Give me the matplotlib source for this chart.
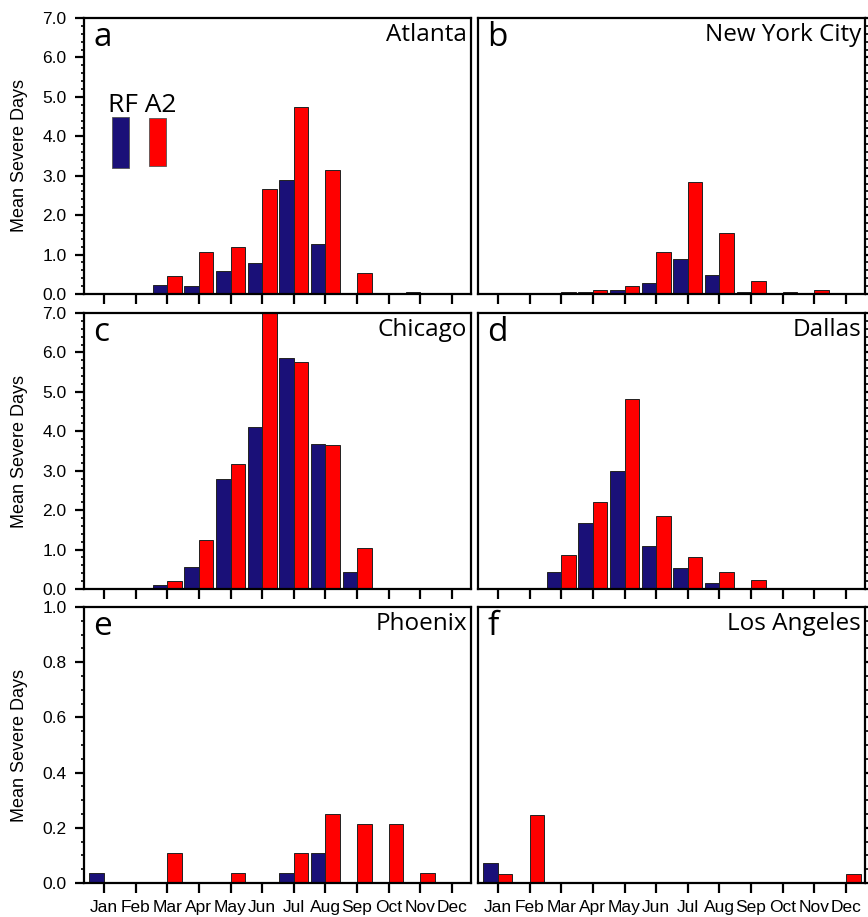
import matplotlib
matplotlib.use("Agg")
import matplotlib.pyplot as plt
from matplotlib.ticker import MultipleLocator, FormatStrFormatter
from matplotlib.patches import Rectangle
import numpy as np

months = ["Jan", "Feb", "Mar", "Apr", "May", "Jun", "Jul", "Aug", "Sep", "Oct", "Nov", "Dec"]

atlanta_rf = [0.02, 0.02, 0.24, 0.21, 0.59, 0.78, 2.88, 1.27, 0.02, 0.0, 0.06, 0.0]
atlanta_a2 = [0.03, 0.02, 0.45, 1.06, 1.20, 2.67, 4.75, 3.14, 0.53, 0.0, 0.01, 0.0]

nyc_rf = [0.0, 0.0, 0.0, 0.06, 0.10, 0.28, 0.89, 0.48, 0.06, 0.0, 0.03, 0.02]
nyc_a2 = [0.02, 0.0, 0.06, 0.10, 0.21, 1.06, 2.84, 1.55, 0.34, 0.06, 0.10, 0.02]

chicago_rf = [0.0, 0.0, 0.11, 0.57, 2.79, 4.11, 5.86, 3.69, 0.43, 0.0, 0.0, 0.0]
chicago_a2 = [0.0, 0.0, 0.21, 1.25, 3.18, 7.00, 5.76, 3.64, 1.04, 0.0, 0.0, 0.0]

dallas_rf = [0.0, 0.01, 0.44, 1.67, 2.99, 1.09, 0.52, 0.16, 0.0, 0.0, 0.0, 0.0]
dallas_a2 = [0.02, 0.01, 0.87, 2.20, 4.82, 1.84, 0.80, 0.44, 0.23, 0.0, 0.0, 0.0]

phoenix_rf = [0.036, 0.0, 0.0, 0.0, 0.0, 0.0, 0.036, 0.107, 0.0, 0.0, 0.0, 0.0]
phoenix_a2 = [0.0, 0.0, 0.107, 0.0, 0.036, 0.0, 0.107, 0.25, 0.214, 0.214, 0.036, 0.0]

la_rf = [0.071, 0.0, 0.0, 0.0, 0.0, 0.0, 0.0, 0.0, 0.0, 0.0, 0.0, 0.0]
la_a2 = [0.034, 0.248, 0.0, 0.0, 0.0, 0.0, 0.0, 0.0, 0.0, 0.0, 0.0, 0.034]

panel_letters = ["a", "b", "c", "d", "e", "f"]
city_names = ["Atlanta", "New York City", "Chicago", "Dallas", "Phoenix", "Los Angeles"]
rf_series = [atlanta_rf, nyc_rf, chicago_rf, dallas_rf, phoenix_rf, la_rf]
a2_series = [atlanta_a2, nyc_a2, chicago_a2, dallas_a2, phoenix_a2, la_a2]
ymax = [7.0, 7.0, 7.0, 7.0, 1.0, 1.0]
ymajor = [1.0, 1.0, 1.0, 1.0, 0.2, 0.2]
yminor = [0.2, 0.2, 0.2, 0.2, 0.05, 0.05]
ylabel_text = "Mean Severe Days"
legend_labels = ["RF", "A2"]

RF_COLOR = "#1a1078"
A2_COLOR = "#ff0000"

fig = plt.figure(figsize=(8.68, 9.17), dpi=100)
W, H = 868.0, 917.0

col_x = [84, 478]
col_w = 387
row_top = [18, 313, 607]
row_h = 276

x = np.arange(1, 13)
bw = 0.46
spine_lw = 1.6
TICK_FS = 12.5

for i in range(6):
    r, c = divmod(i, 2)
    left = col_x[c] / W
    bottom = (H - row_top[r] - row_h) / H
    ax = fig.add_axes([left, bottom, col_w / W, row_h / H])
    ax.bar(x, rf_series[i], width=-bw, align="edge", color=RF_COLOR,
           edgecolor="#222222", linewidth=0.7, zorder=2)
    ax.bar(x, a2_series[i], width=bw, align="edge", color=A2_COLOR,
           edgecolor="#222222", linewidth=0.7, zorder=2)
    ax.set_xlim(0.37, 12.6)
    ax.set_ylim(0, ymax[i])
    for s in ax.spines.values():
        s.set_linewidth(spine_lw)
        s.set_color("black")
    ax.set_xticks(x)
    ax.tick_params(axis="x", which="major", direction="out", length=7,
                   width=1.6, top=False, bottom=True, labelsize=TICK_FS, pad=5)
    if r == 2:
        ax.set_xticklabels(months, fontfamily="Liberation Sans", fontsize=TICK_FS)
    else:
        ax.set_xticklabels([])
    ax.yaxis.set_major_locator(MultipleLocator(ymajor[i]))
    ax.yaxis.set_minor_locator(MultipleLocator(yminor[i]))
    ax.yaxis.set_major_formatter(FormatStrFormatter("%.1f"))
    if c == 0:
        ax.tick_params(axis="y", which="major", direction="out", length=6.5,
                       width=1.6, left=True, right=False, labelsize=TICK_FS, pad=6)
        ax.tick_params(axis="y", which="minor", direction="out", length=2.5,
                       width=1.2, left=True, right=False)
        for lab in ax.get_yticklabels():
            lab.set_fontfamily("Liberation Sans")
            lab.set_fontsize(TICK_FS)
        ax.set_ylabel(ylabel_text, fontsize=13, fontfamily="Liberation Sans")
        ax.yaxis.set_label_coords(-0.145, 0.5)
    else:
        ax.tick_params(axis="y", which="major", direction="out", length=6.5,
                       width=1.6, left=False, right=True, labelleft=False,
                       labelright=False)
        ax.tick_params(axis="y", which="minor", direction="out", length=2.5,
                       width=1.2, left=False, right=True)
    ax.tick_params(axis="x", which="minor", bottom=False, top=False)

    ax.text(0.024, 0.898, panel_letters[i], transform=ax.transAxes,
            fontsize=24, fontfamily="Open Sans", ha="left", va="baseline")
    ax.text(0.99, 0.915, city_names[i], transform=ax.transAxes,
            fontsize=17.5, fontfamily="Open Sans", ha="right", va="baseline")

    if i == 0:
        ax.text(0.062, 0.658, legend_labels[0] + " " + legend_labels[1],
                transform=ax.transAxes, fontsize=19, fontfamily="Open Sans",
                ha="left", va="baseline")
        ax.add_patch(Rectangle((0.072, 0.458), 0.044, 0.182,
                               transform=ax.transAxes, facecolor=RF_COLOR,
                               edgecolor="#555555", linewidth=0.6, zorder=3))
        ax.add_patch(Rectangle((0.168, 0.462), 0.044, 0.174,
                               transform=ax.transAxes, facecolor=A2_COLOR,
                               edgecolor="#555555", linewidth=0.6, zorder=3))

fig.savefig("out.png", dpi=100)
